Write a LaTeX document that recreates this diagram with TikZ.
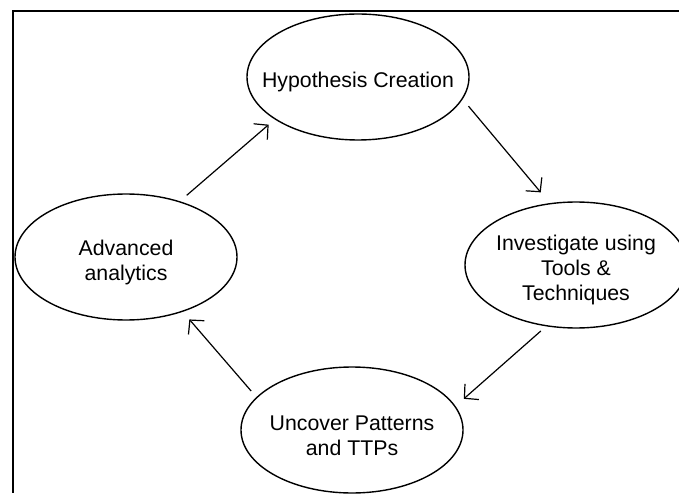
\documentclass[tikz,border=0pt]{standalone}
\usepackage{fontspec}
\setmainfont{Liberation Sans}
\usetikzlibrary{shapes.geometric,arrows.meta}
\newcommand{\nodelift}{\rule{0pt}{26pt}}
\tikzset{
  stage/.style={ellipse,draw,line width=1.4pt,minimum width=222pt,minimum height=126pt,
    inner xsep=-20pt,inner ysep=-10pt,align=center,font=\fontsize{21.3}{25}\selectfont},
  flow/.style={line width=1.2pt,-{Straight Barb[length=10pt,width=21pt]}},
  frame/.style={line width=2pt}
}

\begin{document}
\begin{tikzpicture}[x=1pt,y=1pt]
  \useasboundingbox (0,0) rectangle (679,493);
  \coordinate (tr) at (679,481.5);
  \coordinate (bl) at (12.5,0);
  \draw[frame] (tr) -| (bl);
  \node[stage] (hyp) at (358,416) {\nodelift Hypothesis Creation};
  \node[stage] (inv) at (576,228) {\nodelift Investigate using\\Tools \&\\Techniques};
  \node[stage] (unc) at (352,63) {\nodelift Uncover Patterns\\and TTPs};
  \node[stage] (adv) at (126,236) {\nodelift Advanced\\analytics};
  \draw[flow,shorten <=9pt,shorten >=14pt] (hyp.-12) -- (inv.113);
  \draw[flow,shorten <=7pt,shorten >=11pt] (inv.-116) -- (unc.13);
  \draw[flow,shorten <=8pt,shorten >=10pt] (unc.161) -- (adv.-44);
  \draw[flow,shorten <=9pt,shorten >=8pt] (adv.46) -- (hyp.-153);
\end{tikzpicture}
\end{document}
